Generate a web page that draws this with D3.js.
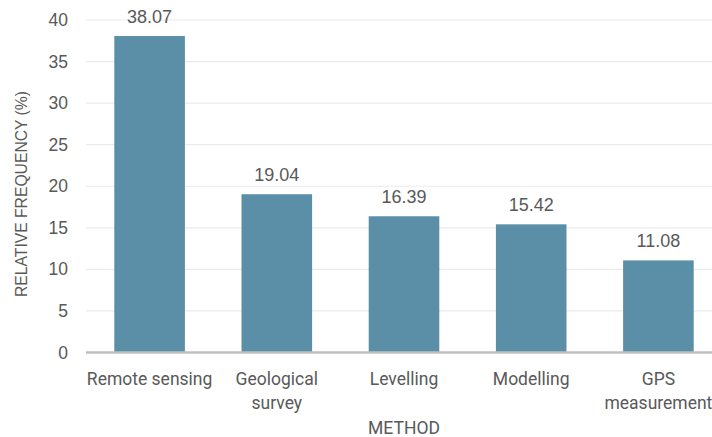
<!DOCTYPE html>
<html>
<head>
<meta charset="utf-8">
<script src="https://cdn.jsdelivr.net/npm/d3@7"></script>
<style>
  html, body { margin: 0; padding: 0; background: #fff; }
  svg { display: block; }
</style>
</head>
<body>
<svg id="chart" width="712" height="437"></svg>
<script>
// Survey of monitoring methods: relative frequency of use
const categories = ["Remote sensing", "Geological survey", "Levelling", "Modelling", "GPS measurement"];
const categoryLines = [["Remote sensing"], ["Geological", "survey"], ["Levelling"], ["Modelling"], ["GPS", "measurement"]];
const values = [38.07, 19.04, 16.39, 15.42, 11.08];
const yTicks = [0, 5, 10, 15, 20, 25, 30, 35, 40];

const svg = d3.select("#chart");
const plotLeft = 86, plotRight = 722, plotTop = 20, plotBottom = 352.5;

const x = d3.scaleBand()
  .domain(categories)
  .range([plotLeft, plotRight])
  .paddingInner(0.445)
  .paddingOuter(0.2225);

const y = d3.scaleLinear().domain([0, 40]).range([plotBottom, plotTop]);

const labelFont = "'Liberation Sans', Arial, sans-serif";
const catFont = "Roboto, 'Noto Sans', sans-serif";
const textColor = "#595959";

// horizontal gridlines
svg.append("g")
  .selectAll("line")
  .data(yTicks.filter(d => d > 0))
  .join("line")
  .attr("x1", plotLeft).attr("x2", 712)
  .attr("y1", d => y(d)).attr("y2", d => y(d))
  .attr("stroke", "#ebebeb").attr("stroke-width", 1.2);

// y axis tick labels
const yAxis = d3.axisLeft(y).tickValues(yTicks).tickSize(0).tickPadding(18);
svg.append("g")
  .attr("transform", `translate(${plotLeft},0)`)
  .call(yAxis)
  .call(g => g.select(".domain").remove())
  .call(g => g.selectAll("text")
    .attr("font-family", labelFont)
    .attr("font-size", 17.5)
    .attr("fill", textColor));

// bars
svg.append("g")
  .selectAll("rect")
  .data(values)
  .join("rect")
  .attr("x", (d, i) => x(categories[i]))
  .attr("width", x.bandwidth())
  .attr("y", d => y(d))
  .attr("height", d => y(0) - y(d))
  .attr("fill", "#5b8fa8");

// value labels
svg.append("g")
  .selectAll("text")
  .data(values)
  .join("text")
  .attr("x", (d, i) => x(categories[i]) + x.bandwidth() / 2)
  .attr("y", d => y(d) - 13)
  .attr("text-anchor", "middle")
  .attr("font-family", labelFont)
  .attr("font-size", 18)
  .attr("fill", textColor)
  .text(d => d.toFixed(2));

// baseline
svg.append("line")
  .attr("x1", plotLeft).attr("x2", 712)
  .attr("y1", y(0)).attr("y2", y(0))
  .attr("stroke", "#bfbfbf").attr("stroke-width", 2.5);

// category labels
const cat = svg.append("g")
  .selectAll("text")
  .data(categories)
  .join("text")
  .attr("x", d => x(d) + x.bandwidth() / 2)
  .attr("y", 385)
  .attr("text-anchor", "middle")
  .attr("font-family", catFont)
  .attr("font-size", 17.5)
  .attr("fill", textColor);
cat.each(function(d, i) {
  d3.select(this).selectAll("tspan")
    .data(categoryLines[i])
    .join("tspan")
    .attr("x", x(d) + x.bandwidth() / 2)
    .attr("dy", (t, j) => j === 0 ? 0 : 23.5)
    .text(t => t);
});

// axis titles
svg.append("text")
  .attr("x", 404).attr("y", 434)
  .attr("text-anchor", "middle")
  .attr("font-family", catFont)
  .attr("font-size", 17.5)
  .attr("fill", textColor)
  .text("METHOD");

svg.append("text")
  .attr("transform", "translate(27,194) rotate(-90)")
  .attr("text-anchor", "middle")
  .attr("font-family", labelFont)
  .attr("font-size", 15.7)
  .attr("fill", textColor)
  .text("RELATIVE FREQUENCY (%)");
</script>
</body>
</html>
